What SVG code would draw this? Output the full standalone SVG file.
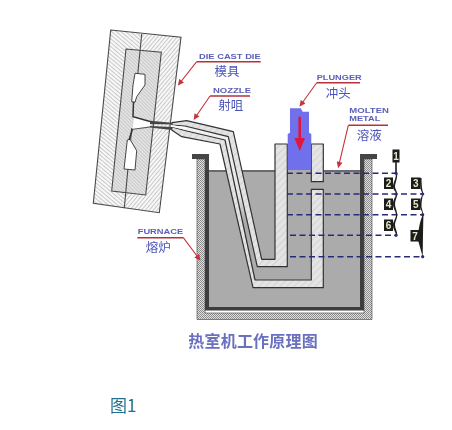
<svg xmlns="http://www.w3.org/2000/svg" width="452" height="430" viewBox="0 0 452 430">
<defs>
<pattern id="hl" width="3" height="3" patternUnits="userSpaceOnUse" patternTransform="rotate(40)"><rect width="3" height="3" fill="#f8f8f8"/><rect width="3" height=".8" fill="#bdbdbd"/></pattern>
<pattern id="hr" width="3" height="3" patternUnits="userSpaceOnUse" patternTransform="rotate(-50)"><rect width="3" height="3" fill="#f8f8f8"/><rect width="3" height=".8" fill="#bdbdbd"/></pattern>
<pattern id="hi" width="2.5" height="2.5" patternUnits="userSpaceOnUse" patternTransform="rotate(45)"><rect width="2.5" height="2.5" fill="#e2e2e2"/><rect width="2.5" height=".8" fill="#c6c6c6"/></pattern>
<pattern id="hg" width="5" height="5" patternUnits="userSpaceOnUse" patternTransform="rotate(-45)"><rect width="5" height="5" fill="#e4e4e4"/><rect width="5" height="1" fill="#d2d2d2"/></pattern>
<pattern id="gr" width="2" height="2" patternUnits="userSpaceOnUse"><rect width="2" height="2" fill="#e0e0e0"/><rect width="1" height="1" fill="#8c8c8c"/><rect x="1" y="1" width="1" height="1" fill="#8c8c8c"/></pattern>
<linearGradient id="ch" x1="0" y1="0" x2="0" y2="1"><stop offset="0" stop-color="#f2f2f2"/><stop offset=".45" stop-color="#e6e6e6"/><stop offset=".62" stop-color="#ababab"/></linearGradient>
<marker id="rh" viewBox="0 0 10 10" refX="9" refY="5" markerWidth="7" markerHeight="6" orient="auto" markerUnits="userSpaceOnUse"><path d="M0,0L10,5L0,10z" fill="#c8323c"/></marker>
<filter id="soft" x="-2%" y="-2%" width="104%" height="104%"><feGaussianBlur stdDeviation="0.35"/></filter>
</defs>
<style>
.ln{fill:none;stroke:#4a4a4a;stroke-width:1.1}
.dk{stroke:#333;stroke-width:1.2;stroke-linejoin:round}
.lb{font-family:"Liberation Sans",Arial,sans-serif;font-size:7px;font-weight:bold;fill:#5a5fb8}
.cn{font-family:"Noto Sans CJK SC",sans-serif;font-size:12.5px;fill:#4b55b8;text-anchor:middle}
.ld{fill:none;stroke:#c8323c;stroke-width:1.1}
.ul{fill:none;stroke:#b5303a;stroke-width:1.5}
.da{fill:none;stroke:#2a2a7a;stroke-width:1.5;stroke-dasharray:6 3.5}
.num{font-family:"Liberation Sans",Arial,sans-serif;font-size:10px;font-weight:bold;fill:#e8e8c8;text-anchor:middle}
.bx{fill:#1c1c1c}
.dot{fill:#2a2a7a}
</style>
<rect width="452" height="430" fill="#fff"/>
<g filter="url(#soft)">
<g id="furnace">
<rect x="209" y="170" width="151" height="137" fill="#ababab"/>
<rect x="209" y="170" width="151" height="2" fill="#6a6a6a"/>
<path d="M197,159H205V313H364V159H372V319.5H197Z" fill="url(#gr)" stroke="#555" stroke-width=".7"/>
<path d="M205,159H209V307H360V159H364V310.5H205Z" fill="#3c3c3c"/>
<path d="M192,154H209V170H205V159H192Z" fill="#454545"/>
<path d="M360,154H377V159H364V170H360Z" fill="#454545"/>
</g>
<g id="gooseneck">
<path d="M185,126L228.3,136.7L257.3,266.7H287V170H311V280H255L225,140L186.7,131Z" fill="url(#ch)"/>
<path d="M287.5,170H311V280H255L245,232L243,190L287,190Z" fill="#ababab"/>
<path class="dk" fill="url(#hg)" d="M172,122.7L186.7,120.7L233.3,131.7L261.7,259.3H275V144H287.3V266.7H257.3L228.3,136.7L185,126L172,125Z"/>
<path class="dk" fill="url(#hg)" d="M172,127L186.7,131L225,140L255,280H311.3V189.3H323.3V287.7H253L220,144L181.7,136.7L171.7,130Z"/>
<path class="dk" fill="url(#hg)" d="M311.3,144H323.3V181.7H311.3Z"/>
<path d="M150,124L172,125L186,127.5L186.7,130L172,127L150,126Z" fill="#fafafa"/>
</g>
<g id="plunger">
<path d="M290,108.3H300.7L302.7,111.7H309V132.7L311.3,134V170H287.7V134L290,132.7Z" fill="#6f70ec"/>
<path d="M298.4,116.7H301V138H305L299.7,151L294.4,138H298.4Z" fill="#e0183c"/>
</g>
<g id="die">
<path d="M110.7,30L141.7,34L124.3,208.3L93.3,203.3Z" fill="url(#hl)"/>
<path d="M141.7,34L181,37.3L159.3,212.7L124.3,208.3Z" fill="url(#hr)"/>
<path d="M126,49L161.3,52.3L145.7,195L111.7,191Z" fill="url(#hi)"/>
<path class="ln" d="M110.7,30L181,37.3L159.3,212.7L93.3,203.3Z"/>
<path class="ln" d="M126,49L161.3,52.3L145.7,195L111.7,191Z"/>
<path class="ln" d="M141.7,34L135,101.7M131.7,128L124.3,208.3"/>
<path d="M135,73.3L145,74.3V85L136.7,96.7L135,102.3L131.7,101.7L133,85Z" fill="#fff" stroke="#444" stroke-width="1"/>
<path d="M127.3,140L130,139.3L136.7,150.7L135,170L124,169Z" fill="#fff" stroke="#444" stroke-width="1"/>
<path d="M134,116.7L150,121.7V126L132.7,129.3Z" fill="#fff"/>
<path d="M133.5,101.7L133,116.7L150,121.5M132.5,129L129,140" fill="none" stroke="#333" stroke-width="1.5"/>
<path d="M150,120.8L172,122.7V124.5L150,124ZM150,126L172,127L171.7,130L150,127.5Z" fill="#444"/>
<path d="M132.7,129.3L150,127" fill="none" stroke="#555"/>
</g>
<g id="connectors">
<path class="ld" marker-end="url(#rh)" d="M196.7,61.7L178.3,85"/>
<path class="ld" marker-end="url(#rh)" d="M210,96L194,119.3"/>
<path class="ld" marker-end="url(#rh)" d="M316.7,82.7L300,106"/>
<path class="ld" marker-end="url(#rh)" d="M348.3,125.3L338.3,167.3"/>
<path class="ld" marker-end="url(#rh)" d="M183.3,237.7L200,260"/>
<path class="ul" d="M196.7,61.7H260.7M210,96H250M316.7,82.7H360M348.3,125.3H388M137.3,237.7H183.3"/>
<path class="da" d="M287,173.3H396M287,194H423M287,214.7H423M290,235.3H396M290,256.7H423"/>
</g>
<g id="die-label"><text class="lb" x="199" y="58.5" textLength="61.7" lengthAdjust="spacingAndGlyphs">DIE CAST DIE</text><text class="cn" x="227" y="76">模具</text></g>
<g id="nozzle-label"><text class="lb" x="213" y="92.5" textLength="38" lengthAdjust="spacingAndGlyphs">NOZZLE</text><text class="cn" x="230.7" y="109.5">射咀</text></g>
<g id="plunger-label"><text class="lb" x="316.7" y="79.8" textLength="45" lengthAdjust="spacingAndGlyphs">PLUNGER</text><text class="cn" x="338.3" y="98">冲头</text></g>
<g id="metal-label"><text class="lb" x="349.3" y="113.2" textLength="39.7" lengthAdjust="spacingAndGlyphs">MOLTEN</text><text class="lb" x="349.3" y="121.2" textLength="31" lengthAdjust="spacingAndGlyphs">METAL</text><text class="cn" x="369.3" y="139.5">溶液</text></g>
<g id="furnace-label"><text class="lb" x="137.7" y="233.5" textLength="45.6" lengthAdjust="spacingAndGlyphs">FURNACE</text><text class="cn" x="158.3" y="252">熔炉</text></g>
<g id="levels">
<path class="bx" d="M395.2,160H396.8V173.3H395.2Z"/>
<path class="bx" d="M396,173.3C396,180 393,182 393,187C393,190 396,191 396,194C396,197 393,199 393,204C393,209 396,211 396,215C396,219 393,221 393,225C393,230 396,232 396,235.3L397.3,235C397.3,231 395,228 395,225C395,221 397.3,219 397.3,215C397.3,211 395,208 395,204C395,200 397.3,197 397.3,194C397.3,191 395,189 395,187C395,183 397.3,180 397.3,173.3Z"/>
<path class="bx" d="M420,178C420,185 420,190 423,194C420,198 420,203 420,207L423,214.7C421,218 418,228 418,240L422.7,256.7C423,245 423,225 423.5,214.7L421.5,207C421.5,203 422,197 423.5,194C422,190 421.5,185 421.5,178Z"/>
<rect class="bx" x="392.5" y="149.5" width="7" height="13"/><text class="num" x="396" y="160">1</text>
<rect class="bx" x="384" y="177.5" width="9" height="11.5"/><text class="num" x="388.5" y="187">2</text>
<rect class="bx" x="411" y="177.5" width="9.5" height="11.5"/><text class="num" x="415.7" y="187">3</text>
<rect class="bx" x="384" y="198.5" width="9" height="11.5"/><text class="num" x="388.5" y="208">4</text>
<rect class="bx" x="411" y="198.5" width="9.5" height="11.5"/><text class="num" x="415.7" y="208">5</text>
<rect class="bx" x="384" y="219.5" width="9" height="11.5"/><text class="num" x="388.5" y="229">6</text>
<rect class="bx" x="410.5" y="230" width="9.5" height="11.5"/><text class="num" x="415" y="239.5">7</text>
<circle class="dot" cx="396" cy="173.3" r="1.6"/><circle class="dot" cx="396" cy="194" r="1.6"/><circle class="dot" cx="396" cy="235.3" r="1.6"/><circle class="dot" cx="422.7" cy="194" r="1.6"/><circle class="dot" cx="422.7" cy="214.7" r="1.6"/><circle class="dot" cx="422.7" cy="256.7" r="1.6"/>
</g>
<g id="title"><text x="188.3" y="346.5" font-family="'Noto Sans CJK SC',sans-serif" font-size="16" font-weight="700" fill="#6a70c0" textLength="129.4">热室机工作原理图</text></g>
<g id="caption"><text x="110" y="412" font-family="'Noto Sans CJK SC',sans-serif" font-size="17" fill="#23708f">图1</text></g>
</g>
</svg>
